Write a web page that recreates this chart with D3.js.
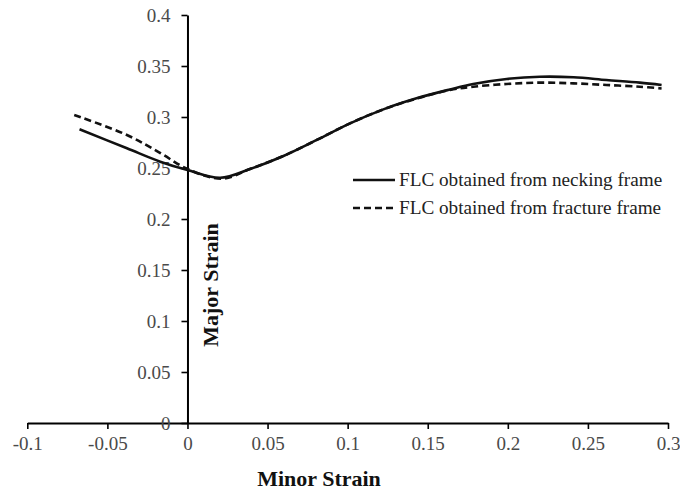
<!DOCTYPE html>
<html>
<head>
<meta charset="utf-8">
<script src="https://cdn.jsdelivr.net/npm/d3@7"></script>
<style>
    body { margin: 0; background: #fff; }
    svg { display: block; }
</style>
</head>
<body>
<div id="plot_flc"></div>
<script>
// minor strain (x) / major strain (y)
const neckingX = [-0.0674, -0.0378, -0.017, 0, 0.0204, 0.039, 0.0599, 0.0807, 0.1015, 0.1223, 0.143, 0.1639, 0.1784, 0.1993, 0.22, 0.241, 0.2616, 0.2824, 0.296];
const neckingY = [0.288, 0.2693, 0.2562, 0.248, 0.2405, 0.249, 0.2618, 0.2775, 0.2938, 0.3075, 0.3183, 0.327, 0.3324, 0.3373, 0.3395, 0.339, 0.3363, 0.3337, 0.3314];
const fractureX = [-0.0707, -0.0378, -0.017, 0, 0.0215, 0.039, 0.0599, 0.0807, 0.1015, 0.1223, 0.143, 0.1639, 0.1784, 0.1993, 0.22, 0.241, 0.2616, 0.2824, 0.296];
const fractureY = [0.302, 0.2824, 0.2647, 0.249, 0.2395, 0.249, 0.2618, 0.2775, 0.2938, 0.3075, 0.318, 0.3265, 0.3297, 0.3324, 0.3337, 0.333, 0.3314, 0.3297, 0.328];

const xTicks = [-0.1, -0.05, 0, 0.05, 0.1, 0.15, 0.2, 0.25, 0.3];
const yTicks = [0, 0.05, 0.1, 0.15, 0.2, 0.25, 0.3, 0.35, 0.4];

const seriesNames = ["FLC obtained from necking frame", "FLC obtained from fracture frame"];

const width = 680;
const height = 490;
const margin = ({
    top: 15,
    right: 12,
    bottom: 67,
    left: 27
});

const serif = "'Liberation Serif', 'Times New Roman', serif";

let svg = d3.select("#plot_flc")
    .append("svg")
    .attr("width", width)
    .attr("height", height)
    .attr("viewBox", `0 0 ${width} ${height}`);

const x = d3.scaleLinear()
    .domain([-0.1, 0.3])
    .range([margin.left + 0.3, width - margin.right]);

const y = d3.scaleLinear()
    .domain([0, 0.4])
    .range([height - margin.bottom, margin.top]);

const fmt = t => String(+t.toFixed(2));

const xAxis = g => g
    .attr("transform", `translate(0,${y(0)})`)
    .call(d3.axisBottom(x).tickValues(xTicks).tickFormat(fmt).tickSize(6).tickSizeOuter(0).tickPadding(8))
    .call(g => g.select(".domain").attr("stroke-width", 2))
    .call(g => g.selectAll(".tick line").attr("stroke-width", 1.6))
    .call(g => g.selectAll(".tick text").attr("fill", "#4a4a4a"))
    .attr("font-family", serif)
    .attr("font-size", "19px");

const yAxis = g => g
    .attr("transform", `translate(${x(0)},0)`)
    .call(d3.axisLeft(y).tickValues(yTicks).tickFormat(fmt).tickSize(6).tickSizeOuter(0).tickPadding(11))
    .call(g => g.select(".domain").attr("stroke-width", 2))
    .call(g => g.selectAll(".tick line").attr("stroke-width", 1.6))
    .call(g => g.selectAll(".tick text").attr("fill", "#4a4a4a"))
    .attr("font-family", serif)
    .attr("font-size", "19px");

svg.append("g").call(xAxis);
svg.append("g").call(yAxis);

const line = d3.line()
    .x(d => x(d[0]))
    .y(d => y(d[1]))
    .curve(d3.curveCatmullRom.alpha(0.5));

const necking = neckingX.map((v, i) => [v, neckingY[i]]);
const fracture = fractureX.map((v, i) => [v, fractureY[i]]);

svg.append("path")
    .datum(fracture)
    .attr("fill", "none")
    .attr("stroke", "#111")
    .attr("stroke-width", 2.6)
    .attr("stroke-dasharray", "7,4")
    .attr("d", line);

svg.append("path")
    .datum(necking)
    .attr("fill", "none")
    .attr("stroke", "#111")
    .attr("stroke-width", 2.6)
    .attr("stroke-linejoin", "round")
    .attr("d", line);

// axis titles
svg.append("text")
    .attr("x", 319)
    .attr("y", 486)
    .attr("text-anchor", "middle")
    .attr("font-family", serif)
    .attr("font-weight", "bold")
    .attr("font-size", "22px")
    .attr("fill", "#111")
    .text("Minor Strain");

svg.append("text")
    .attr("transform", `translate(218,285) rotate(-90)`)
    .attr("text-anchor", "middle")
    .attr("font-family", serif)
    .attr("font-weight", "bold")
    .attr("font-size", "22px")
    .attr("fill", "#111")
    .text("Major Strain");

// legend
const legend = svg.append("g")
    .attr("transform", "translate(353,180)");

const legendRows = legend.selectAll("g")
    .data(seriesNames)
    .join("g")
    .attr("transform", (d, i) => `translate(0,${i * 28})`);

legendRows.append("line")
    .attr("x1", 0)
    .attr("x2", 42)
    .attr("stroke", "#111")
    .attr("stroke-width", 2.6)
    .attr("stroke-dasharray", (d, i) => i ? "7,4" : null);

legendRows.append("text")
    .attr("x", 46)
    .attr("y", 6)
    .attr("font-family", serif)
    .attr("font-size", "19.2px")
    .attr("fill", "#222")
    .text(d => d);
</script>
</body>
</html>
